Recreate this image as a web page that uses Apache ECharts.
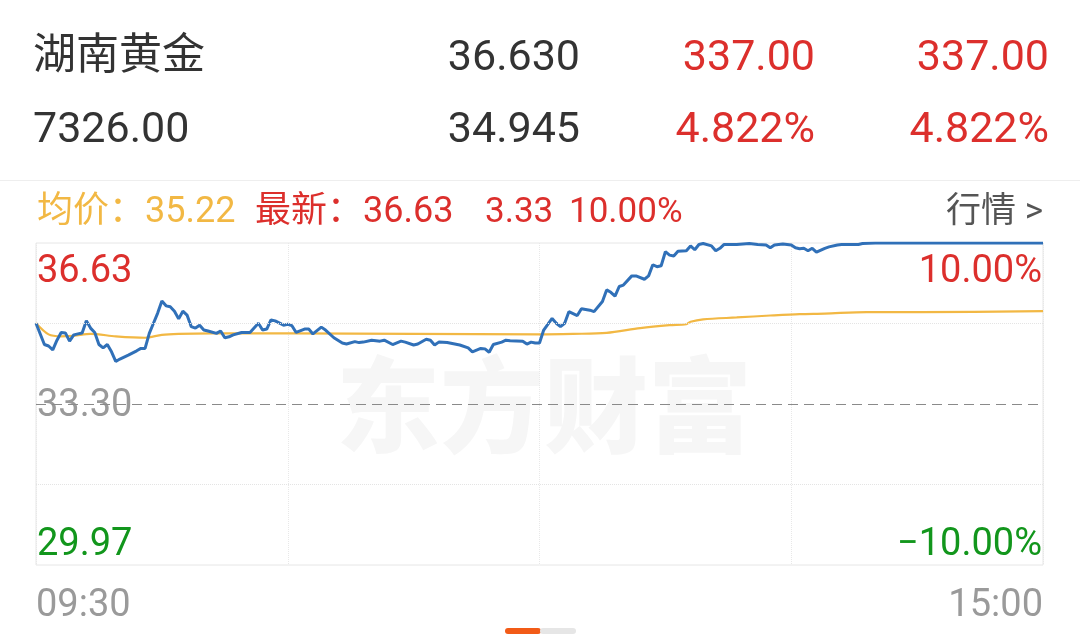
<!DOCTYPE html>
<html><head><meta charset="utf-8">
<script src="https://cdn.jsdelivr.net/npm/echarts@6/dist/echarts.min.js"></script>
<style>html,body{margin:0;padding:0;background:#fff}#c{width:1080px;height:639px}</style>
</head><body><div id="c"></div>
<script>
// ---------- data ----------
const stockName = '湖南黄金';
const headerRow1 = ['36.630', '337.00', '337.00'];
const headerRow2 = ['7326.00', '34.945', '4.822%', '4.822%'];
const avgLabel = '均价：35.22';
const lastLabel = ['最新：36.63', '3.33', '10.00%'];
const marketLink = '行情 >';
const watermark = '东方财富';
const prevClose = 33.30, limitUp = 36.63, limitDown = 29.97;
const xTickValues = [0, 240];
const xTickLabels = ['09:30', '15:00'];
const pctLabels = ['10.00%', '−10.00%'];

const priceMinutes = [0,2,3,4,5,6,7,8,9,10,11,12,13,14,15,16,17,18,19,20,22,24,25,26,27,28,29,30,31,32,33,34,35,36,37,38,39,40,41,43,44,45,46,47,49,51,53,54,55,56,57,59,60,61,62,64,65,66,68,69,71,73,74,76,77,78,80,82,83,85,87,88,90,91,93,94,95,96,98,101,103,104,106,107,108,109,111,112,113,116,117,118,119,120,121,123,124,125,126,127,129,130,132,133,135,136,137,138,139,140,142,143,145,146,147,148,149,150,151,152,153,155,156,157,158,159,161,162,163,164,166,167,170,172,174,175,176,178,180,181,182,183,184,185,186,188,189,191,192,196,197,200,240];
const prices = [34.97,34.53,34.50,34.42,34.62,34.78,34.77,34.60,34.73,34.75,34.77,35.02,34.87,34.78,34.53,34.46,34.53,34.38,34.18,34.23,34.31,34.40,34.45,34.45,34.76,34.97,35.18,35.43,35.33,35.31,35.22,35.06,35.22,35.14,34.90,34.87,34.93,34.83,34.81,34.76,34.81,34.67,34.69,34.73,34.78,34.78,34.97,34.83,34.85,35.04,35.02,34.93,34.95,34.92,34.78,34.85,34.85,34.75,34.89,34.83,34.67,34.56,34.54,34.59,34.57,34.58,34.62,34.60,34.62,34.53,34.60,34.58,34.52,34.54,34.64,34.62,34.52,34.58,34.57,34.52,34.46,34.38,34.45,34.44,34.37,34.53,34.58,34.62,34.61,34.60,34.54,34.58,34.56,34.56,34.83,35.07,34.97,34.90,34.97,35.21,35.13,35.27,35.24,35.21,35.42,35.66,35.61,35.53,35.73,35.76,35.95,35.95,35.88,35.95,36.18,36.14,36.16,36.45,36.38,36.36,36.46,36.47,36.57,36.49,36.60,36.62,36.57,36.47,36.52,36.60,36.60,36.60,36.62,36.60,36.59,36.53,36.59,36.61,36.59,36.53,36.51,36.52,36.47,36.52,36.44,36.52,36.55,36.59,36.60,36.60,36.62,36.63,36.63];

const avgMinutes = [0,3,6,9,13,19,26,30,34,42,61,90,120,128,136,144,151,155,156,159,167,175,182,188,198,211,240];
const avgPrices = [34.97,34.74,34.70,34.71,34.75,34.70,34.67,34.73,34.75,34.76,34.76,34.75,34.74,34.75,34.77,34.87,34.93,34.95,35.00,35.05,35.09,35.13,35.16,35.17,35.20,35.20,35.22];

// ---------- style ----------
const F = 'Roboto, "Noto Sans CJK SC", sans-serif';
const RED = '#dc2f2c', GREEN = '#12961c', GRAY = '#9a9a9a', DARK = '#333333';
const BLUE = '#3070b8', YEL = '#f2b844';

const near = (a, b) => Math.abs(a - b) < 0.001;
const priceData = priceMinutes.map((m, i) => [m, prices[i]]);
const avgData = avgMinutes.map((m, i) => [m, avgPrices[i]]);

function txt(text, x, y, size, color, align, weight) {
  return {
    type: 'text', x: x, y: y, z: 100,
    style: { text: text, fill: color, fontSize: size, fontFamily: F, fontWeight: weight || 'normal', align: align || 'left', verticalAlign: 'middle' }
  };
}

const chart = echarts.init(document.getElementById('c'), null, { renderer: 'canvas' });
chart.setOption({
  animation: false,
  backgroundColor: '#fff',
  grid: { left: 36, right: 37, top: 243, bottom: 74, show: true, borderColor: '#e6e6e6', borderWidth: 1, backgroundColor: 'transparent' },
  xAxis: {
    type: 'value', min: 0, max: 240, interval: 60,
    axisLine: { show: false }, axisTick: { show: false },
    splitLine: { show: true, lineStyle: { color: '#e8e8e8', type: 'dotted', width: 1 } },
    axisLabel: {
      customValues: xTickValues,
      formatter: v => xTickLabels[xTickValues.indexOf(v)] || '',
      color: GRAY, fontSize: 38, fontFamily: F, margin: 22,
      alignMinLabel: 'left', alignMaxLabel: 'right'
    }
  },
  yAxis: [{
    type: 'value', min: limitDown, max: limitUp, position: 'left',
    axisLine: { show: false }, axisTick: { show: false }, splitLine: { show: false },
    axisLabel: {
      inside: true, margin: 1,
      customValues: [limitDown, prevClose, limitUp],
      formatter: v => near(v, limitUp) ? '{up|' + limitUp.toFixed(2) + '}' : near(v, limitDown) ? '{dn|' + limitDown.toFixed(2) + '}' : '{mid|' + prevClose.toFixed(2) + '}',
      rich: {
        up: { color: RED, fontSize: 38, fontFamily: F, padding: [58, 0, 0, 0] },
        dn: { color: GREEN, fontSize: 38, fontFamily: F, padding: [0, 0, 40, 0] },
        mid: { color: GRAY, fontSize: 38, fontFamily: F, padding: [4, 0, 0, 0] }
      }
    }
  }, {
    type: 'value', min: limitDown, max: limitUp, position: 'right',
    axisLine: { show: false }, axisTick: { show: false }, splitLine: { show: false },
    axisLabel: {
      inside: true, margin: 1,
      customValues: [limitDown, limitUp],
      formatter: v => near(v, limitUp) ? '{up|' + pctLabels[0] + '}' : '{dn|' + pctLabels[1] + '}',
      rich: {
        up: { color: RED, fontSize: 38, fontFamily: F, padding: [58, 0, 0, 0] },
        dn: { color: GREEN, fontSize: 38, fontFamily: F, padding: [0, 0, 40, 0] }
      }
    }
  }],
  series: [{
    type: 'line', name: 'avg', data: avgData, showSymbol: false, smooth: 0.3,
    lineStyle: { color: YEL, width: 2.2 }, z: 3,
    markLine: {
      silent: true, symbol: 'none', label: { show: false },
      data: [
        { yAxis: (limitUp + prevClose) / 2, lineStyle: { color: '#e4e4e4', type: 'dotted', width: 1 } },
        { yAxis: prevClose, lineStyle: { color: '#8a8a8a', type: [10, 6], width: 1 } },
        { yAxis: (limitDown + prevClose) / 2, lineStyle: { color: '#e4e4e4', type: 'dotted', width: 1 } }
      ]
    }
  }, {
    type: 'line', name: 'price', data: priceData, showSymbol: false,
    lineStyle: { color: BLUE, width: 3 }, z: 4
  }],
  graphic: [
    { type: 'rect', shape: { x: 0, y: 180, width: 1080, height: 1 }, style: { fill: '#eeeeee' } },
    { type: 'text', x: 544, y: 405, z: 0, style: { text: watermark, fill: '#f6f6f6', fontSize: 104, fontWeight: 900, fontFamily: '"Noto Sans CJK SC", sans-serif', align: 'center', verticalAlign: 'middle' } },
    txt(stockName, 33, 58, 43, DARK),
    txt(headerRow1[0], 580, 59, 43, DARK, 'right'),
    txt(headerRow1[1], 815, 59, 43, RED, 'right'),
    txt(headerRow1[2], 1049, 59, 43, RED, 'right'),
    txt(headerRow2[0], 33, 131, 43, DARK),
    txt(headerRow2[1], 580, 131, 43, DARK, 'right'),
    txt(headerRow2[2], 815, 131, 43, RED, 'right'),
    txt(headerRow2[3], 1049, 131, 43, RED, 'right'),
    txt(avgLabel, 37, 213, 36, YEL),
    txt(lastLabel[0], 255, 213, 36, RED),
    txt(lastLabel[1], 485, 213, 35, RED),
    txt(lastLabel[2], 569, 213, 35, RED),
    txt(marketLink, 1043, 213, 35, '#555555', 'right'),
    { type: 'rect', shape: { x: 505, y: 628, width: 36, height: 6, r: 3 }, style: { fill: '#f25b17' } },
    { type: 'rect', shape: { x: 540, y: 628, width: 36, height: 6, r: 3 }, style: { fill: '#e6e6e6' } }
  ]
});
</script></body></html>
